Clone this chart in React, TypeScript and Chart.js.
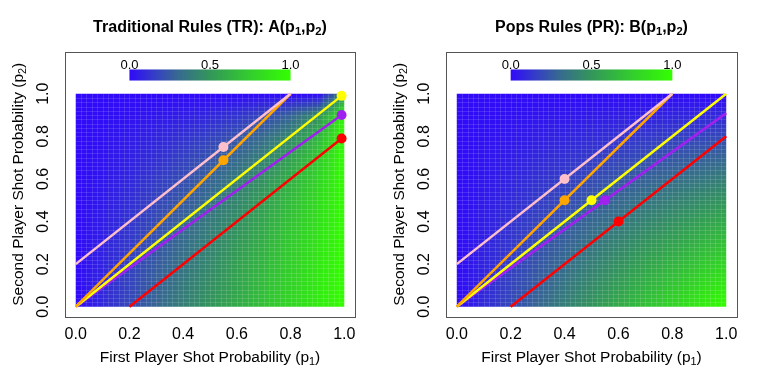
import React, { useEffect, useRef } from "react";
import { Chart, registerables } from "chart.js";
Chart.register(...registerables);

// ---------- data ----------
const P_GRID = [0, 0.1, 0.2, 0.3, 0.4, 0.5, 0.6, 0.7, 0.8, 0.9, 1.0];

// A(p1,p2): rows = p2 from 0 to 1, columns = p1 from 0 to 1
const A_VALUES = [
  [0, 0.10, 0.20, 0.30, 0.40, 0.50, 0.60, 0.70, 0.80, 0.90, 1.00],
  [0, 0.09, 0.18, 0.28, 0.38, 0.47, 0.57, 0.68, 0.78, 0.89, 1.00],
  [0, 0.08, 0.17, 0.26, 0.35, 0.44, 0.55, 0.65, 0.76, 0.88, 1.00],
  [0, 0.07, 0.15, 0.23, 0.32, 0.41, 0.51, 0.62, 0.74, 0.86, 1.00],
  [0, 0.06, 0.13, 0.21, 0.29, 0.38, 0.47, 0.58, 0.71, 0.84, 1.00],
  [0, 0.05, 0.11, 0.18, 0.25, 0.33, 0.43, 0.54, 0.67, 0.82, 1.00],
  [0, 0.04, 0.09, 0.15, 0.21, 0.29, 0.38, 0.48, 0.62, 0.78, 1.00],
  [0, 0.03, 0.07, 0.11, 0.17, 0.23, 0.31, 0.41, 0.55, 0.73, 1.00],
  [0, 0.02, 0.05, 0.08, 0.12, 0.17, 0.23, 0.32, 0.44, 0.64, 1.00],
  [0, 0.01, 0.02, 0.04, 0.06, 0.09, 0.13, 0.19, 0.29, 0.47, 1.00],
  [0, 0.00, 0.00, 0.00, 0.00, 0.00, 0.00, 0.00, 0.00, 0.00, 0.50],
];

// B(p1,p2): rows = p2 from 0 to 1, columns = p1 from 0 to 1
const B_VALUES = [
  [0, 0.10, 0.20, 0.30, 0.40, 0.50, 0.60, 0.70, 0.80, 0.90, 1.00],
  [0, 0.09, 0.18, 0.27, 0.36, 0.45, 0.54, 0.63, 0.72, 0.81, 0.90],
  [0, 0.08, 0.16, 0.24, 0.32, 0.40, 0.48, 0.56, 0.64, 0.72, 0.80],
  [0, 0.07, 0.14, 0.21, 0.28, 0.35, 0.42, 0.49, 0.56, 0.63, 0.70],
  [0, 0.06, 0.12, 0.18, 0.24, 0.30, 0.36, 0.42, 0.48, 0.54, 0.60],
  [0, 0.05, 0.10, 0.15, 0.20, 0.25, 0.30, 0.35, 0.40, 0.45, 0.50],
  [0, 0.04, 0.08, 0.12, 0.16, 0.20, 0.24, 0.28, 0.32, 0.36, 0.40],
  [0, 0.03, 0.06, 0.09, 0.12, 0.15, 0.18, 0.21, 0.24, 0.27, 0.30],
  [0, 0.02, 0.04, 0.06, 0.08, 0.10, 0.12, 0.14, 0.16, 0.18, 0.20],
  [0, 0.01, 0.02, 0.03, 0.04, 0.05, 0.06, 0.07, 0.08, 0.09, 0.10],
  [0, 0.00, 0.00, 0.00, 0.00, 0.00, 0.00, 0.00, 0.00, 0.00, 0.00],
];

const X_TICKS = [0, 0.2, 0.4, 0.6, 0.8, 1.0];
const Y_TICKS = [0, 0.2, 0.4, 0.6, 0.8, 1.0];
const COLORBAR_TICKS = [0, 0.5, 1.0];

const LINE_COLORS = ["#FFC0CB", "#FFA500", "#FFFF00", "#A020F0", "#FF0000"];

// Traditional rules: lines (start/end) and marked points
const A_LINE_X1 = [0, 0, 0, 0, 0.2];
const A_LINE_Y1 = [0.2, 0, 0, 0, 0];
const A_LINE_X2 = [0.8, 0.8, 0.99, 0.99, 0.99];
const A_LINE_Y2 = [1.0, 1.0, 0.99, 0.9, 0.79];
const A_POINT_X = [0.55, 0.55, 0.99, 0.99, 0.99];
const A_POINT_Y = [0.75, 0.6875, 0.99, 0.9, 0.79];

// Pops rules
const B_LINE_X1 = [0, 0, 0, 0, 0.2];
const B_LINE_Y1 = [0.2, 0, 0, 0, 0];
const B_LINE_X2 = [0.8, 0.8, 1.0, 1.0, 1.0];
const B_LINE_Y2 = [1.0, 1.0, 1.0, 0.909, 0.8];
const B_POINT_X = [0.4, 0.4, 0.5, 0.55, 0.6];
const B_POINT_Y = [0.6, 0.5, 0.5, 0.5, 0.4];

// ---------- styling ----------
const FONT = "'Liberation Sans', Arial, Helvetica, sans-serif";
const PALETTE: [number, number, number, number][] = [
  [0, 48, 10, 250],
  [0.15, 52, 60, 200],
  [0.3, 55, 105, 145],
  [0.5, 51, 150, 90],
  [0.75, 51, 205, 45],
  [1, 51, 255, 0],
];

function colorAt(v: number): [number, number, number] {
  const t = Math.max(0, Math.min(1, v));
  for (let i = 0; i < PALETTE.length - 1; i++) {
    const a = PALETTE[i];
    const b = PALETTE[i + 1];
    if (t <= b[0]) {
      const f = (t - a[0]) / (b[0] - a[0]);
      return [
        Math.round(a[1] + (b[1] - a[1]) * f),
        Math.round(a[2] + (b[2] - a[2]) * f),
        Math.round(a[3] + (b[3] - a[3]) * f),
      ];
    }
  }
  const l = PALETTE[PALETTE.length - 1];
  return [l[1], l[2], l[3]];
}

type Part = { t: string; sub?: boolean };

function drawRich(
  ctx: CanvasRenderingContext2D,
  parts: Part[],
  x: number,
  y: number,
  size: number,
  bold: boolean,
  rotate: boolean
) {
  ctx.save();
  ctx.translate(x, y);
  if (rotate) ctx.rotate(-Math.PI / 2);
  const w = bold ? "bold " : "";
  const subSize = size * 0.7;
  let total = 0;
  for (const p of parts) {
    ctx.font = `${w}${p.sub ? subSize : size}px ${FONT}`;
    total += ctx.measureText(p.t).width;
  }
  let cx = -total / 2;
  ctx.textAlign = "left";
  ctx.textBaseline = "alphabetic";
  ctx.fillStyle = "#000";
  const base = size * 0.36;
  for (const p of parts) {
    ctx.font = `${w}${p.sub ? subSize : size}px ${FONT}`;
    ctx.fillText(p.t, cx, base + (p.sub ? size * 0.22 : 0));
    cx += ctx.measureText(p.t).width;
  }
  ctx.restore();
}

type PanelProps = {
  title: Part[];
  values: number[][];
  lx1: number[];
  ly1: number[];
  lx2: number[];
  ly2: number[];
  px: number[];
  py: number[];
  width: number;
};

function Panel(props: PanelProps) {
  const ref = useRef<HTMLCanvasElement | null>(null);
  useEffect(() => {
    const canvas = ref.current;
    if (!canvas) return;
    const n = P_GRID.length;
    const step = P_GRID[1] - P_GRID[0];

    const panelPlugin = {
      id: "panelPlugin",
      beforeDatasetsDraw(chart: any) {
        const ctx: CanvasRenderingContext2D = chart.ctx;
        const xs = chart.scales.x;
        const ys = chart.scales.y;
        // heatmap
        const off = document.createElement("canvas");
        off.width = n;
        off.height = n;
        const octx = off.getContext("2d")!;
        const img = octx.createImageData(n, n);
        for (let r = 0; r < n; r++) {
          const row = props.values[n - 1 - r];
          for (let c = 0; c < n; c++) {
            const [R, G, B] = colorAt(row[c]);
            const k = (r * n + c) * 4;
            img.data[k] = R;
            img.data[k + 1] = G;
            img.data[k + 2] = B;
            img.data[k + 3] = 255;
          }
        }
        octx.putImageData(img, 0, 0);
        const x0 = xs.getPixelForValue(P_GRID[0]);
        const x1 = xs.getPixelForValue(P_GRID[n - 1]);
        const y0 = ys.getPixelForValue(P_GRID[0]);
        const y1 = ys.getPixelForValue(P_GRID[n - 1]);
        ctx.save();
        ctx.beginPath();
        ctx.rect(x0, y1, x1 - x0, y0 - y1);
        ctx.clip();
        ctx.imageSmoothingEnabled = true;
        (ctx as any).imageSmoothingQuality = "low";
        const ix0 = xs.getPixelForValue(P_GRID[0] - step / 2);
        const ix1 = xs.getPixelForValue(P_GRID[n - 1] + step / 2);
        const iy0 = ys.getPixelForValue(P_GRID[n - 1] + step / 2);
        const iy1 = ys.getPixelForValue(P_GRID[0] - step / 2);
        ctx.drawImage(off, ix0, iy0, ix1 - ix0, iy1 - iy0);
        // faint cell seams
        ctx.strokeStyle = "rgba(255,255,255,0.13)";
        ctx.lineWidth = 1;
        for (let k = 1; k < 50; k++) {
          const gx = Math.round(xs.getPixelForValue(k / 50)) + 0.5;
          const gy = Math.round(ys.getPixelForValue(k / 50)) + 0.5;
          ctx.beginPath();
          ctx.moveTo(gx, y1);
          ctx.lineTo(gx, y0);
          ctx.stroke();
          ctx.beginPath();
          ctx.moveTo(x0, gy);
          ctx.lineTo(x1, gy);
          ctx.stroke();
        }
        ctx.restore();

        // colour bar
        const cbx0 = xs.getPixelForValue(0.2);
        const cbx1 = xs.getPixelForValue(0.8);
        const cby0 = ys.getPixelForValue(1.114);
        const cby1 = ys.getPixelForValue(1.062);
        const grad = ctx.createLinearGradient(cbx0, 0, cbx1, 0);
        for (let i = 0; i <= 20; i++) {
          const [R, G, B] = colorAt(i / 20);
          grad.addColorStop(i / 20, `rgb(${R},${G},${B})`);
        }
        ctx.fillStyle = grad;
        ctx.fillRect(cbx0, cby0, cbx1 - cbx0, cby1 - cby0);
        ctx.font = `13px ${FONT}`;
        ctx.fillStyle = "#000";
        ctx.textAlign = "center";
        ctx.textBaseline = "alphabetic";
        const ly = ys.getPixelForValue(1.14) + 5;
        for (const t of COLORBAR_TICKS) {
          const lx = cbx0 + (cbx1 - cbx0) * t;
          ctx.fillText(t.toFixed(1), lx, ly);
        }
      },
      afterDraw(chart: any) {
        const ctx: CanvasRenderingContext2D = chart.ctx;
        const xs = chart.scales.x;
        const ys = chart.scales.y;
        const a = chart.chartArea;
        ctx.save();
        ctx.strokeStyle = "#555";
        ctx.lineWidth = 1;
        ctx.strokeRect(
          Math.round(a.left) + 0.5,
          Math.round(a.top) + 0.5,
          Math.round(a.right - a.left),
          Math.round(a.bottom - a.top)
        );
        ctx.fillStyle = "#000";
        ctx.font = `16px ${FONT}`;
        ctx.textAlign = "center";
        ctx.textBaseline = "middle";
        for (const t of X_TICKS) {
          ctx.fillText(t.toFixed(1), xs.getPixelForValue(t), a.bottom + 18);
        }
        for (const t of Y_TICKS) {
          ctx.save();
          ctx.translate(a.left - 21, ys.getPixelForValue(t));
          ctx.rotate(-Math.PI / 2);
          ctx.fillText(t.toFixed(1), 0, 0);
          ctx.restore();
        }
        ctx.restore();
        const cx = (a.left + a.right) / 2;
        drawRich(ctx, props.title, cx, 26, 16, true, false);
        drawRich(
          ctx,
          [{ t: "First Player Shot Probability (p" }, { t: "1", sub: true }, { t: ")" }],
          cx,
          a.bottom + 40,
          15.5,
          false,
          false
        );
        drawRich(
          ctx,
          [{ t: "Second Player Shot Probability (p" }, { t: "2", sub: true }, { t: ")" }],
          17,
          (a.top + a.bottom) / 2,
          15.5,
          false,
          true
        );
      },
    };

    const datasets: any[] = [];
    for (let i = 0; i < LINE_COLORS.length; i++) {
      datasets.push({
        data: [{ x: props.px[i], y: props.py[i] }],
        pointRadius: 5,
        pointBackgroundColor: LINE_COLORS[i],
        pointBorderWidth: 0,
        showLine: false,
      });
    }
    for (let i = 0; i < LINE_COLORS.length; i++) {
      datasets.push({
        data: [
          { x: props.lx1[i], y: props.ly1[i] },
          { x: props.lx2[i], y: props.ly2[i] },
        ],
        showLine: true,
        borderColor: LINE_COLORS[i],
        borderWidth: 2.5,
        pointRadius: 0,
        fill: false,
      });
    }

    const chart = new Chart(canvas, {
      type: "scatter",
      data: { datasets },
      options: {
        animation: false,
        responsive: false,
        events: [],
        layout: { padding: { left: 65, right: 26, top: 52, bottom: 65.5 } },
        scales: {
          x: { type: "linear", min: -0.04, max: 1.04, display: false },
          y: { type: "linear", min: -0.046, max: 1.196, display: false },
        },
        plugins: {
          legend: { display: false },
          tooltip: { enabled: false },
          title: { display: false },
        },
      },
      plugins: [panelPlugin],
    } as any);
    return () => chart.destroy();
  }, []);
  return (
    <canvas
      ref={ref}
      width={props.width}
      height={382}
      style={{ display: "block", width: props.width, height: 382 }}
    />
  );
}

export default function App() {
  return (
    <div
      style={{
        position: "fixed",
        left: 0,
        top: 0,
        width: 763,
        height: 382,
        background: "#fff",
        display: "flex",
      }}
    >
      <Panel
        title={[
          { t: "Traditional Rules (TR): A(p" },
          { t: "1", sub: true },
          { t: ",p" },
          { t: "2", sub: true },
          { t: ")" },
        ]}
        values={A_VALUES}
        lx1={A_LINE_X1}
        ly1={A_LINE_Y1}
        lx2={A_LINE_X2}
        ly2={A_LINE_Y2}
        px={A_POINT_X}
        py={A_POINT_Y}
        width={381}
      />
      <Panel
        title={[
          { t: "Pops Rules (PR): B(p" },
          { t: "1", sub: true },
          { t: ",p" },
          { t: "2", sub: true },
          { t: ")" },
        ]}
        values={B_VALUES}
        lx1={B_LINE_X1}
        ly1={B_LINE_Y1}
        lx2={B_LINE_X2}
        ly2={B_LINE_Y2}
        px={B_POINT_X}
        py={B_POINT_Y}
        width={382}
      />
    </div>
  );
}
